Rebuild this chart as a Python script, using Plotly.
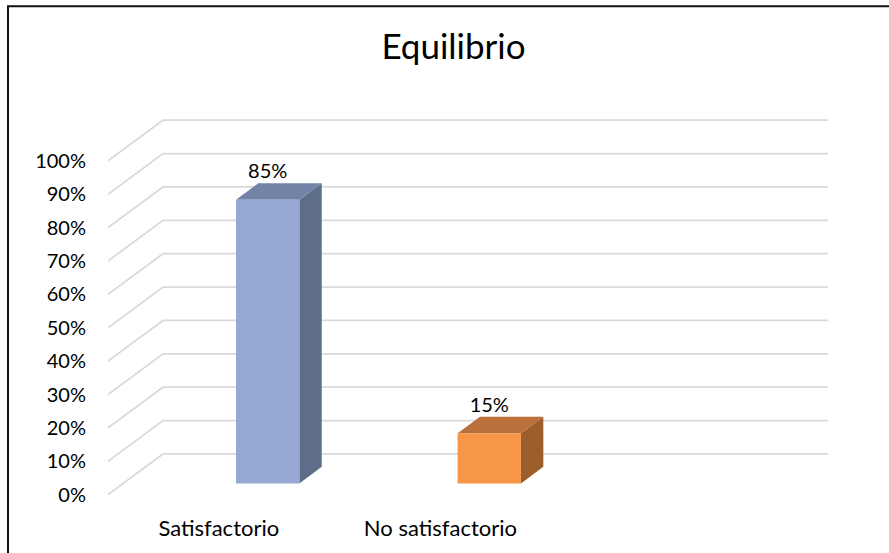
import plotly.graph_objects as go

# ---- data ----
categories = ["Satisfactorio", "No satisfactorio"]
values = [85, 15]
value_labels = ["85%", "15%"]
tick_values = [0, 10, 20, 30, 40, 50, 60, 70, 80, 90, 100]
tick_labels = ["0%", "10%", "20%", "30%", "40%", "50%", "60%", "70%", "80%", "90%", "100%"]

# ---- styling / geometry constants ----
front_colors = ["#95A9D2", "#F79646"]
top_colors = ["#7283A8", "#B9703A"]
side_colors = ["#5E6D88", "#9C5F2C"]
FONT = "Lato"
n_slots = 3            # category slots on the floor (third one empty)
DX = 0.2482            # depth offset in category units
DY = 12.2              # depth offset in value units
D0, D1 = 0.276, 0.683  # bar depth span (fraction of full depth)
BAR_OFF = 0.652        # bar centre within slot
BAR_HW = 0.143         # bar half width

W, H = 889, 553
L, R, T, B = 108, 889 - 840, 100, 553 - 512
px_per_cat = 221.6
px_per_val = 3.37
plot_w = W - L - R
plot_h = H - T - B
x_range = [0, plot_w / px_per_cat]
y_bottom = -(512 - 498.5) / px_per_val
y_range = [y_bottom, y_bottom + plot_h / px_per_val]

fig = go.Figure()

# gridlines (front-side diagonal + back wall horizontal)
for v in tick_values:
    fig.add_trace(go.Scatter(
        x=[0, DX, n_slots + DX], y=[v, v + DY, v + DY],
        mode="lines", line=dict(color="#D9D9D9", width=1.8),
        hoverinfo="skip", showlegend=False))


def face(pts, color, name=None):
    return go.Scatter(
        x=[p[0] for p in pts] + [pts[0][0]], y=[p[1] for p in pts] + [pts[0][1]],
        fill="toself", fillcolor=color, mode="lines",
        line=dict(width=0, color=color), hoverinfo="skip", showlegend=False,
        name=name)


def proj(c, y, d):
    return (c + d * DX, y + d * DY)


# bars
for i, (cat, v) in enumerate(zip(categories, values)):
    cl = i + BAR_OFF - BAR_HW
    cr = i + BAR_OFF + BAR_HW
    fig.add_trace(face([proj(cr, 0, D0), proj(cr, 0, D1), proj(cr, v, D1), proj(cr, v, D0)],
                       side_colors[i]))
    fig.add_trace(face([proj(cl, v, D0), proj(cr, v, D0), proj(cr, v, D1), proj(cl, v, D1)],
                       top_colors[i]))
    fig.add_trace(face([proj(cl, 0, D0), proj(cr, 0, D0), proj(cr, v, D0), proj(cl, v, D0)],
                       front_colors[i], cat))
    fig.add_trace(go.Scatter(
        x=[i + BAR_OFF + D0 * DX], y=[v + D1 * DY], mode="text",
        text=[value_labels[i]], textposition="top center",
        textfont=dict(family=FONT, size=20, color="#000000"),
        cliponaxis=False, hoverinfo="skip", showlegend=False))

fig.update_layout(
    width=W, height=H,
    margin=dict(l=L, r=R, t=T, b=B),
    paper_bgcolor="white", plot_bgcolor="white",
    font=dict(family=FONT, color="#000000"),
    title=dict(text="Equilibrio", x=453.5 / W, xanchor="center",
               y=1 - 47 / H, yanchor="middle", xref="container", yref="container",
               font=dict(family=FONT, size=35, color="#000000")),
    xaxis=dict(range=x_range, showgrid=False, zeroline=False, showline=False,
               tickvals=[i + 0.5 for i in range(len(categories))], ticktext=categories,
               ticks="outside", ticklen=1, tickcolor="rgba(0,0,0,0)",
               tickfont=dict(family=FONT, size=22, color="#000000"), fixedrange=True),
    yaxis=dict(range=y_range, showgrid=False, zeroline=False, showline=False,
               tickvals=tick_values, ticktext=tick_labels,
               ticks="outside", ticklen=17, tickcolor="rgba(0,0,0,0)",
               tickfont=dict(family=FONT, size=20, color="#000000"), fixedrange=True),
    shapes=[dict(type="rect", xref="paper", yref="paper",
                 x0=(8 - L) / plot_w, x1=(W + 20 - L) / plot_w,
                 y0=-(B + 20) / plot_h, y1=(plot_h + T - 5.3) / plot_h,
                 line=dict(color="#111111", width=2))],
)

fig.write_html("out.html", config={"displayModeBar": False},
               post_script="document.body.style.margin='0';")
